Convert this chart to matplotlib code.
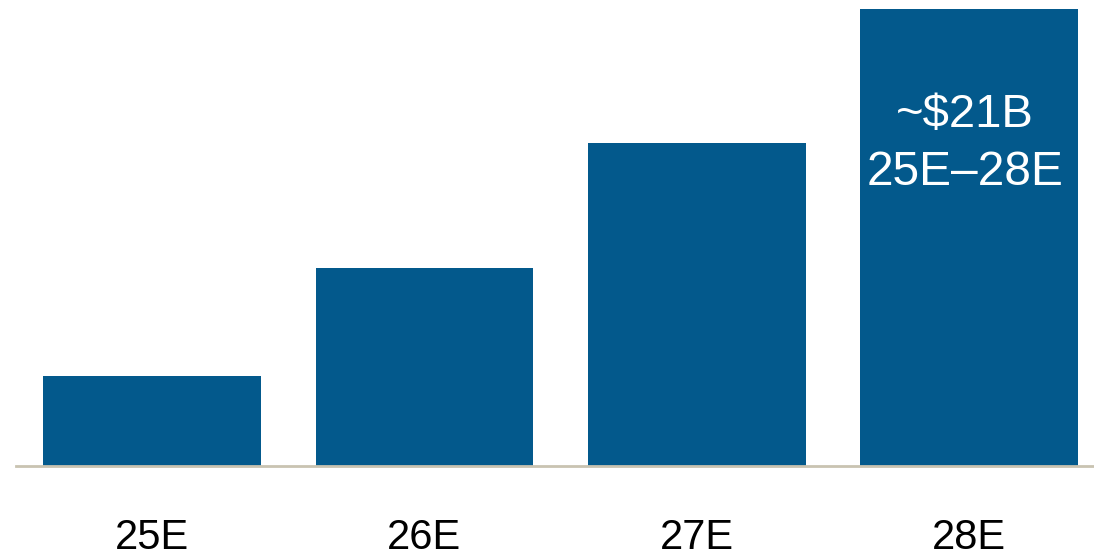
import matplotlib
matplotlib.use("Agg")
import matplotlib.pyplot as plt
from matplotlib.transforms import blended_transform_factory

# Annual values, $B (estimates)
years = ["25E", "26E", "27E", "28E"]
values = [1.77, 3.90, 6.35, 8.98]
callout_lines = ["~$21B", "25E\u201328E"]

bar_color = "#03598c"
base_color = "#c9c3b1"

plt.rcParams["font.family"] = ["Liberation Sans", "DejaVu Sans"]

W, H = 1094, 554
fig = plt.figure(figsize=(W / 100, H / 100), dpi=100)
left, right, bottom, top = 16, 1093, 466, 0
ax = fig.add_axes([left / W, (H - bottom) / H, (right - left) / W, (bottom - top) / H])

x = list(range(len(years)))
ax.bar(x, values, width=0.8, color=bar_color, zorder=2)

ax.set_xlim(-0.5, 3.455)
ax.set_ylim(0, max(values) * 466 / 457)

for s in ["top", "right", "left"]:
    ax.spines[s].set_visible(False)
ax.spines["bottom"].set_color(base_color)
ax.spines["bottom"].set_linewidth(2.0)
ax.spines["bottom"].set_zorder(3)

ax.set_yticks([])
ax.set_xticks(x)
ax.set_xticklabels([])
ax.tick_params(axis="x", length=0)

# category labels on a common baseline below the axis
tr = blended_transform_factory(ax.transData, fig.transFigure)
for xi, lab in zip(x, years):
    ax.text(xi, (H - 549) / H, lab, transform=tr, ha="center", va="baseline",
            fontsize=30, color="#000000", clip_on=False)

# total callout inside the last bar
for line, yb, fs in zip(callout_lines, [127, 185], [34, 34.5]):
    ax.text(x[-1] - 0.015, (H - yb) / H, line, transform=tr, ha="center",
            va="baseline", color="white", fontsize=fs)

fig.savefig("out.png", dpi=100, facecolor="white")
